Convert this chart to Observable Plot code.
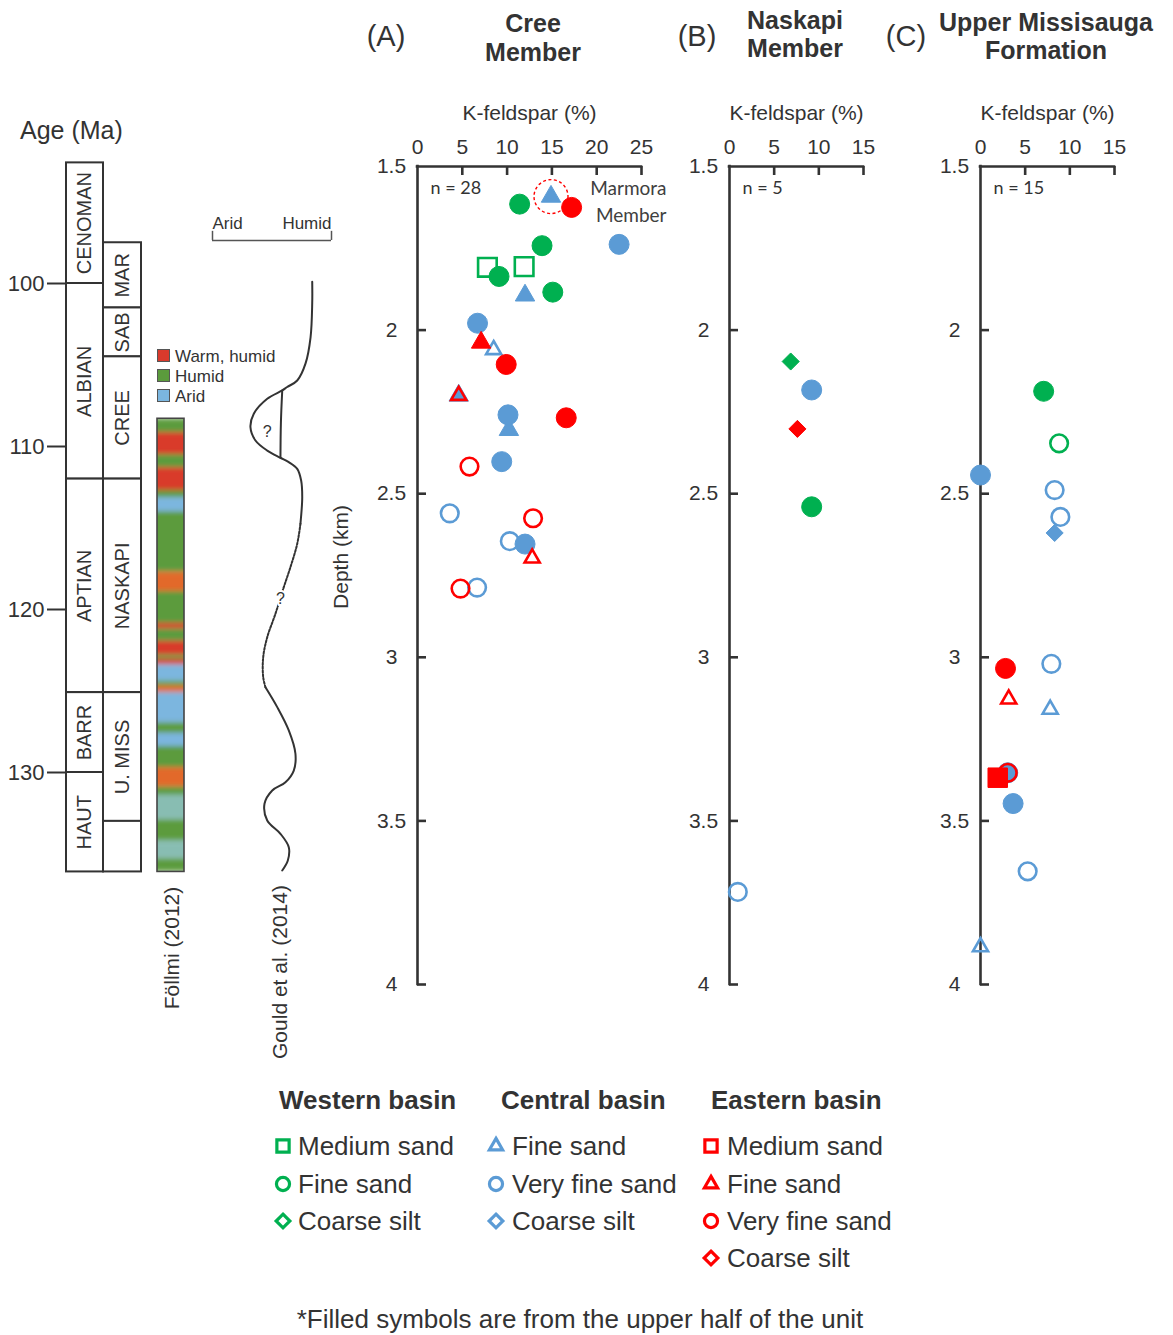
<!DOCTYPE html>
<html>
<head>
<meta charset="utf-8">
<script src="https://cdn.jsdelivr.net/npm/d3@7"></script>
<script src="https://cdn.jsdelivr.net/npm/@observablehq/plot@0.6"></script>
<style>
  body { margin: 0; background: #fff; }
  #chart { position: relative; width: 1173px; height: 1335px; overflow: hidden;
           font-family: "Liberation Sans", Arial, sans-serif; color: #333; }
  #chart .lbl { position: absolute; white-space: nowrap; line-height: 1; }
  #chart .sw { position: absolute; width: 13px; height: 13px; box-sizing: border-box; border: 1px solid #555; }
  #chart svg.sym { position: absolute; overflow: visible; }
</style>
</head>
<body>
<div id="chart"></div>
<script>
// ---------- stratigraphy (ages in Ma) ----------
const ageTicks = [100, 110, 120, 130];
const stages = [
  {name: "CENOMAN", top: 92.6, base: 100},
  {name: "ALBIAN", top: 100, base: 112},
  {name: "APTIAN", top: 112, base: 125.1},
  {name: "BARR", top: 125.1, base: 130},
  {name: "HAUT", top: 130, base: 136.1}
];
const members = [
  {name: "MAR", top: 97.5, base: 101.5},
  {name: "SAB", top: 101.5, base: 104.5},
  {name: "CREE", top: 104.5, base: 112},
  {name: "NASKAPI", top: 112, base: 125.1},
  {name: "U. MISS", top: 125.1, base: 133},
  {name: "", top: 133, base: 136.1}
];
// Föllmi (2012) climate record: [top, base, climate]
const climateBands = [
  [108.3, 109.15, "Humid"], [109.15, 110.5, "Warm, humid"], [110.5, 111.3, "Humid"],
  [111.3, 112.7, "Warm, humid"], [112.7, 113.15, "Humid"], [113.15, 114.0, "Arid"],
  [114.0, 117.7, "Humid"], [117.7, 118.9, "Warm, humid / humid"], [118.9, 120.85, "Humid"],
  [120.85, 121.2, "Warm, humid"], [121.2, 121.95, "Humid"], [121.95, 122.8, "Warm, humid"],
  [122.8, 123.05, "Humid"], [123.05, 123.4, "Warm, humid"], [123.4, 124.4, "Arid"],
  [124.4, 124.7, "Humid"], [124.7, 125.1, "Warm, humid / humid"], [125.1, 126.95, "Arid"],
  [126.95, 127.6, "Humid"], [127.6, 128.4, "Arid"], [128.4, 129.7, "Humid"],
  [129.7, 130.9, "Warm, humid / humid"], [130.9, 131.4, "Humid"], [131.4, 132.9, "Arid / humid"],
  [132.9, 134.2, "Humid"], [134.2, 135.3, "Arid / humid"], [135.3, 136.1, "Humid"]
];
const climateClasses = ["Warm, humid", "Humid", "Arid"];
const climateColors = ["#d93a2c", "#5b9b3c", "#7bb6df"];
const climateMixes = {"Warm, humid / humid": "#e2692c", "Arid / humid": "#88bdb2"};

// Gould et al. (2014) humidity curve: [humidity (0 = arid, 1 = humid), age]
const gouldUpper = [
  [0.838, 99.9], [0.838, 101.2], [0.824, 103.3], [0.782, 104.9], [0.712, 105.95],
  [0.628, 106.35], [0.586, 106.56], [0.46, 107.07], [0.347, 107.99], [0.319, 108.82],
  [0.361, 109.63], [0.46, 110.25], [0.571, 110.69], [0.641, 110.96], [0.712, 111.37],
  [0.745, 112.09], [0.754, 113.11], [0.739, 114.74]
];
const gouldInner = [[0.586, 106.56], [0.575, 108.5], [0.571, 110.69]];
const gouldDashed = [
  [0.739, 114.74], [0.712, 115.97], [0.655, 117.4], [0.599, 118.63], [0.529, 120.26],
  [0.46, 121.7], [0.426, 122.93], [0.426, 124.15], [0.445, 124.77]
];
const gouldLower = [
  [0.445, 124.77], [0.544, 125.99], [0.641, 127.42], [0.697, 128.85], [0.683, 129.88],
  [0.613, 130.6], [0.502, 131.1], [0.437, 131.92], [0.46, 132.94], [0.571, 133.76],
  [0.641, 134.58], [0.633, 135.4], [0.586, 136.01]
];
const gouldQueries = [[0.46, 109.12], [0.571, 119.33]];
const gouldEnds = ["Arid", "Humid"];

// ---------- K-feldspar panels ----------
const depthTicks = [1.5, 2, 2.5, 3, 3.5, 4];
const kTicksWide = [0, 5, 10, 15, 20, 25];
const kTicksNarrow = [0, 5, 10, 15];

// [K-feldspar %, depth km, basin, grain size, filled (upper half of unit)]
const creeMember = [
  [14.9, 1.592, "C", "Fine sand", 1],
  [11.4, 1.615, "W", "Fine sand", 1],
  [17.2, 1.625, "E", "Very fine sand", 1],
  [22.5, 1.738, "C", "Very fine sand", 1],
  [13.9, 1.742, "W", "Fine sand", 1],
  [7.8, 1.808, "W", "Medium sand", 0],
  [11.9, 1.806, "W", "Medium sand", 0],
  [9.1, 1.836, "W", "Fine sand", 1],
  [15.1, 1.884, "W", "Fine sand", 1],
  [12.0, 1.894, "C", "Fine sand", 1],
  [6.7, 1.979, "C", "Very fine sand", 1],
  [8.5, 2.06, "C", "Fine sand", 0],
  [7.1, 2.038, "E", "Fine sand", 1],
  [9.9, 2.105, "E", "Very fine sand", 1],
  [4.6, 2.2, "C", "Fine sand", 1],
  [4.6, 2.2, "E", "Fine sand", 0],
  [10.2, 2.305, "C", "Fine sand", 1],
  [10.1, 2.259, "C", "Very fine sand", 1],
  [16.6, 2.268, "E", "Very fine sand", 1],
  [5.8, 2.417, "E", "Very fine sand", 0],
  [9.4, 2.402, "C", "Very fine sand", 1],
  [3.6, 2.56, "C", "Very fine sand", 0],
  [12.9, 2.575, "E", "Very fine sand", 0],
  [10.3, 2.645, "C", "Very fine sand", 0],
  [12.0, 2.654, "C", "Very fine sand", 1],
  [12.8, 2.697, "E", "Fine sand", 0],
  [6.65, 2.787, "C", "Very fine sand", 0],
  [4.8, 2.79, "E", "Very fine sand", 0]
];
const naskapiMember = [
  [6.85, 2.096, "W", "Coarse silt", 1],
  [9.2, 2.183, "C", "Very fine sand", 1],
  [7.6, 2.302, "E", "Coarse silt", 1],
  [9.2, 2.54, "W", "Fine sand", 1],
  [0.93, 3.717, "C", "Very fine sand", 0]
];
const upperMissisauga = [
  [7.07, 2.187, "W", "Fine sand", 1],
  [8.8, 2.346, "W", "Fine sand", 0],
  [0, 2.443, "C", "Very fine sand", 1],
  [8.3, 2.489, "C", "Very fine sand", 0],
  [8.94, 2.571, "C", "Very fine sand", 0],
  [8.3, 2.62, "C", "Coarse silt", 1],
  [2.8, 3.034, "E", "Very fine sand", 1],
  [7.93, 3.02, "C", "Very fine sand", 0],
  [3.16, 3.128, "E", "Fine sand", 0],
  [7.8, 3.159, "C", "Fine sand", 0],
  [3.05, 3.353, "C", "Very fine sand", 1],
  [3.05, 3.353, "E", "Very fine sand", 0],
  [1.93, 3.368, "E", "Medium sand", 1],
  [3.65, 3.447, "C", "Very fine sand", 1],
  [5.28, 3.654, "C", "Very fine sand", 0],
  [0, 3.885, "C", "Fine sand", 0]
];
const sampleCounts = [28, 5, 15];
const panelLetters = ["(A)", "(B)", "(C)"];
const panelTitles = [["Cree", "Member"], ["Naskapi", "Member"], ["Upper Missisauga", "Formation"]];
const marmoraLabel = ["Marmora", "Member"];

// ---------- legend ----------
const basinCodes = ["W", "C", "E"];
const basinNames = ["Western basin", "Central basin", "Eastern basin"];
const basinColors = ["#00b050", "#5b9bd5", "#ff0000"];
const westernGrains = [["Medium sand", "square"], ["Fine sand", "circle"], ["Coarse silt", "diamond"]];
const centralGrains = [["Fine sand", "triangle"], ["Very fine sand", "circle"], ["Coarse silt", "diamond"]];
const easternGrains = [["Medium sand", "square"], ["Fine sand", "triangle"], ["Very fine sand", "circle"], ["Coarse silt", "diamond"]];
const footnote = "*Filled symbols are from the upper half of the unit";

// ---------- drawing ----------
const W = 1173, H = 1335;
const INK = "#333";
const FONT = '"Liberation Sans", Arial, sans-serif';
const chart = document.getElementById("chart");

const grainsByBasin = {W: westernGrains, C: centralGrains, E: easternGrains};
const colorByBasin = Object.fromEntries(basinCodes.map((b, i) => [b, basinColors[i]]));
const SYMBOLS = {square: d3.symbolSquare, circle: d3.symbolCircle, triangle: d3.symbolTriangle, diamond: d3.symbolDiamond2};
// dot radius per symbol: [filled, open]
const DOT_R = {circle: [10, 8.8], triangle: [7.2, 5.6], square: [11, 10.5], diamond: [7.7, 7]};
const shapeOf = (d) => grainsByBasin[d[2]].find((g) => g[0] === d[3])[1];
const climateColor = (c) => {
  const i = climateClasses.indexOf(c);
  return i >= 0 ? climateColors[i] : climateMixes[c];
};

const layerStyle = {position: "absolute", left: "0px", top: "0px", background: "transparent",
                    overflow: "visible", fontFamily: FONT, color: INK};

function label(text, x, y, {size = 20, weight = "normal", anchor = "middle", rotate = 0, family = FONT} = {}) {
  const el = document.createElement("div");
  el.className = "lbl";
  el.textContent = text;
  Object.assign(el.style, {left: x + "px", top: y + "px", fontSize: size + "px", fontWeight: weight, fontFamily: family});
  const tx = anchor === "middle" ? "-50%" : anchor === "end" ? "-100%" : "0";
  el.style.transform = `translate(${tx}, -50%)` + (rotate ? ` rotate(${rotate}deg)` : "");
  chart.appendChild(el);
  return el;
}

// Shared age scale for the stratigraphic column and climate curve
const ageScale = {domain: [100, 130], range: [283, 772], axis: null};
const TRACK = {tick: [47, 66], stage: [66, 103], member: [103, 141], climate: [157, 184]};
const mid = (a) => (a[0] + a[1]) / 2;
const bandTop = d3.min(climateBands, (d) => d[0]);
const bandBase = d3.max(climateBands, (d) => d[1]);

const column = Plot.plot({
  width: W, height: H,
  x: {type: "identity", axis: null},
  y: ageScale,
  color: {type: "identity"},
  style: layerStyle,
  marks: [
    Plot.rect(climateBands, {x1: TRACK.climate[0], x2: TRACK.climate[1], y1: (d) => d[0], y2: (d) => d[1],
      fill: (d) => climateColor(d[2])}),
    Plot.rect([[bandTop, bandBase]], {x1: TRACK.climate[0], x2: TRACK.climate[1], y1: (d) => d[0], y2: (d) => d[1],
      fill: "none", stroke: "#444", strokeWidth: 1.6}),
    Plot.rect(stages, {x1: TRACK.stage[0], x2: TRACK.stage[1], y1: "top", y2: "base",
      fill: "white", stroke: INK, strokeWidth: 2}),
    Plot.rect(members, {x1: TRACK.member[0], x2: TRACK.member[1], y1: "top", y2: "base",
      fill: "white", stroke: INK, strokeWidth: 2}),
    Plot.text(stages, {x: mid(TRACK.stage), y: (d) => (d.top + d.base) / 2, text: "name", rotate: -90,
      fontSize: 20, fill: INK}),
    Plot.text(members, {x: mid(TRACK.member), y: (d) => (d.top + d.base) / 2, text: "name", rotate: -90,
      fontSize: 20, fill: INK}),
    Plot.ruleY(ageTicks, {y: (d) => d, x1: TRACK.tick[0], x2: TRACK.tick[1], stroke: INK, strokeWidth: 2}),
    Plot.text(ageTicks, {y: (d) => d, x: TRACK.tick[0] - 3, textAnchor: "end", text: (d) => String(d),
      fontSize: 22, fill: INK})
  ]
});
chart.appendChild(column);

// soft vertical blending between the climate bands
{
  const ns = "http://www.w3.org/2000/svg";
  const defs = document.createElementNS(ns, "defs");
  const filter = document.createElementNS(ns, "filter");
  filter.setAttribute("id", "band-blend");
  filter.setAttribute("x", "0"); filter.setAttribute("y", "0");
  filter.setAttribute("width", "1"); filter.setAttribute("height", "1");
  const blur = document.createElementNS(ns, "feGaussianBlur");
  blur.setAttribute("stdDeviation", "0 2.4");
  blur.setAttribute("edgeMode", "duplicate");
  filter.appendChild(blur);
  defs.appendChild(filter);
  column.insertBefore(defs, column.firstChild);
  const bandGroup = column.querySelector('g[aria-label="rect"]');
  bandGroup.setAttribute("filter", "url(#band-blend)");
}

const gould = Plot.plot({
  width: W, height: H,
  x: {domain: [0, 1], range: [212, 331], axis: null},
  y: ageScale,
  style: layerStyle,
  marks: [
    Plot.ruleY([97.36], {x1: 0, x2: 1, stroke: "#555", strokeWidth: 1.5}),
    Plot.ruleX([0, 1], {x: (d) => d, y1: 97.36, y2: 96.8, stroke: "#555", strokeWidth: 1.5}),
    Plot.text([gouldEnds[0]], {x: 0, y: 96.3, text: (d) => d, textAnchor: "start", fontSize: 17, fill: INK}),
    Plot.text([gouldEnds[1]], {x: 1, y: 96.3, text: (d) => d, textAnchor: "end", fontSize: 17, fill: INK}),
    Plot.line(gouldUpper, {x: (d) => d[0], y: (d) => d[1], curve: "catmull-rom", stroke: INK, strokeWidth: 2}),
    Plot.line(gouldInner, {x: (d) => d[0], y: (d) => d[1], curve: "catmull-rom", stroke: INK, strokeWidth: 2}),
    Plot.line(gouldDashed, {x: (d) => d[0], y: (d) => d[1], curve: "catmull-rom", stroke: INK, strokeWidth: 2,
      strokeDasharray: "2.2,1.6"}),
    Plot.line(gouldLower, {x: (d) => d[0], y: (d) => d[1], curve: "catmull-rom", stroke: INK, strokeWidth: 2}),
    Plot.text(gouldQueries, {x: (d) => d[0], y: (d) => d[1], text: () => "?", fontSize: 16, fill: INK,
      stroke: "white", strokeWidth: 4})
  ]
});
chart.appendChild(gould);

// K-feldspar versus depth panels, all on the same depth scale (depth increases downward)
const FRAME_TOP = 166, FRAME_BOTTOM = 984;
const SMALL_FONT = "Lato, 'Open Sans', sans-serif";
function kPanel({data, ticks, left, right, n, extra = []}) {
  const innerW = right - left;
  const innerH = FRAME_BOTTOM - FRAME_TOP;
  return Plot.plot({
    width: W, height: H,
    marginLeft: left, marginRight: W - right, marginTop: FRAME_TOP, marginBottom: H - FRAME_BOTTOM,
    x: {domain: [ticks[0], ticks[ticks.length - 1]], axis: null},
    y: {domain: [depthTicks[0], depthTicks[depthTicks.length - 1]], reverse: true, axis: null},
    color: {type: "identity"},
    r: {type: "identity"},
    style: layerStyle,
    marks: [
      Plot.ruleY([depthTicks[0]], {stroke: INK, strokeWidth: 2.6, strokeLinecap: "square"}),
      Plot.ruleX([ticks[0]], {stroke: INK, strokeWidth: 2.6, strokeLinecap: "square"}),
      Plot.tickX(ticks.slice(1), {x: (d) => d, insetBottom: innerH - 9, stroke: INK, strokeWidth: 2.6}),
      Plot.tickY(depthTicks.slice(1), {y: (d) => d, insetRight: innerW - 9, stroke: INK, strokeWidth: 2.6}),
      Plot.text(ticks, {x: (d) => d, frameAnchor: "top", lineAnchor: "middle", dy: -19,
        text: (d) => String(d), fontSize: 21, fill: INK}),
      Plot.text(depthTicks, {y: (d) => d, frameAnchor: "left", dx: -26, textAnchor: "middle",
        text: (d) => String(d), fontSize: 21, fill: INK}),
      Plot.text(["K-feldspar (%)"], {frameAnchor: "top", lineAnchor: "middle", dy: -53, text: (d) => d,
        fontSize: 21, fill: INK}),
      Plot.text([n], {frameAnchor: "top-left", lineAnchor: "middle", dx: 13, dy: 22, textAnchor: "start",
        text: (d) => `n = ${d}`, fontSize: 18, fontFamily: SMALL_FONT, fill: INK}),
      ...extra,
      Plot.dot(data, {
        x: (d) => d[0], y: (d) => d[1],
        symbol: (d) => SYMBOLS[shapeOf(d)],
        r: (d) => DOT_R[shapeOf(d)][d[4] ? 0 : 1],
        fill: (d) => (d[4] ? colorByBasin[d[2]] : "none"),
        stroke: (d) => colorByBasin[d[2]],
        strokeWidth: (d) => (d[4] ? 1 : 2.6),
        sort: null
      })
    ]
  });
}

const marmoraSample = creeMember[0];
chart.appendChild(kPanel({
  data: creeMember, ticks: kTicksWide, left: 417, right: 641, n: sampleCounts[0],
  extra: [
    Plot.dot([marmoraSample], {x: (d) => d[0], y: (d) => d[1], r: 17, fill: "none", stroke: "#ff0000",
      strokeWidth: 1.4, strokeDasharray: "3,2.5"}),
    Plot.text([marmoraLabel[0]], {frameAnchor: "top-right", lineAnchor: "middle", dx: 25, dy: 22,
      textAnchor: "end", text: (d) => d, fontSize: 19, fontFamily: SMALL_FONT, fill: "#404040"}),
    Plot.text([marmoraLabel[1]], {frameAnchor: "top-right", lineAnchor: "middle", dx: 25, dy: 49,
      textAnchor: "end", text: (d) => d, fontSize: 19, fontFamily: SMALL_FONT, fill: "#404040"})
  ]
}));
chart.appendChild(kPanel({data: naskapiMember, ticks: kTicksNarrow, left: 729, right: 863, n: sampleCounts[1]}));
chart.appendChild(kPanel({data: upperMissisauga, ticks: kTicksNarrow, left: 980, right: 1114, n: sampleCounts[2]}));

// ---------- text ----------
label("Age (Ma)", 20, 130, {size: 25, anchor: "start"});
label("Föllmi (2012)", 171, 948, {size: 21, rotate: -90});
label("Gould et al. (2014)", 279, 972, {size: 21, rotate: -90});
label("Depth (km)", 340, 557, {size: 21, rotate: -90});

const letterX = [386, 697, 906];
const titleX = [533, 795, 1046];
const titleY = [[23, 52], [20, 48], [22, 50]];
panelLetters.forEach((t, i) => label(t, letterX[i], 36, {size: 29}));
panelTitles.forEach((lines, i) => lines.forEach((t, j) => label(t, titleX[i], titleY[i][j], {size: 25, weight: "bold"})));

// climate legend
climateClasses.forEach((c, i) => {
  const y = 356 + i * 20;
  const sw = document.createElement("div");
  sw.className = "sw";
  Object.assign(sw.style, {left: "157px", top: (y - 7) + "px", background: climateColors[i]});
  chart.appendChild(sw);
  label(c, 175, y, {size: 17, anchor: "start"});
});

// grain-size / basin legend
const SYM_SIZE = {square: 150, circle: 135, triangle: 75, diamond: 120};
function legendSymbol(shape, color, cx, cy) {
  const ns = "http://www.w3.org/2000/svg";
  const svg = document.createElementNS(ns, "svg");
  svg.setAttribute("class", "sym");
  svg.setAttribute("width", 24); svg.setAttribute("height", 24);
  svg.style.left = (cx - 12) + "px"; svg.style.top = (cy - 12) + "px";
  const p = document.createElementNS(ns, "path");
  p.setAttribute("transform", "translate(12,12)");
  p.setAttribute("d", d3.symbol(SYMBOLS[shape], SYM_SIZE[shape])());
  p.setAttribute("fill", "none");
  p.setAttribute("stroke", color);
  p.setAttribute("stroke-width", 3.2);
  svg.appendChild(p);
  chart.appendChild(svg);
}
const legHeadX = [279, 501, 711];
const legSymX = [283, 496, 711];
const legTextX = [298, 512, 727];
const legRowY = [1146, 1184, 1221, 1258];
basinNames.forEach((name, i) => {
  label(name, legHeadX[i], 1100, {size: 26, weight: "bold", anchor: "start"});
  grainsByBasin[basinCodes[i]].forEach(([grain, shape], j) => {
    legendSymbol(shape, basinColors[i], legSymX[i], legRowY[j]);
    label(grain, legTextX[i], legRowY[j], {size: 26, anchor: "start"});
  });
});
label(footnote, 580, 1319, {size: 26});
</script>
</body>
</html>
